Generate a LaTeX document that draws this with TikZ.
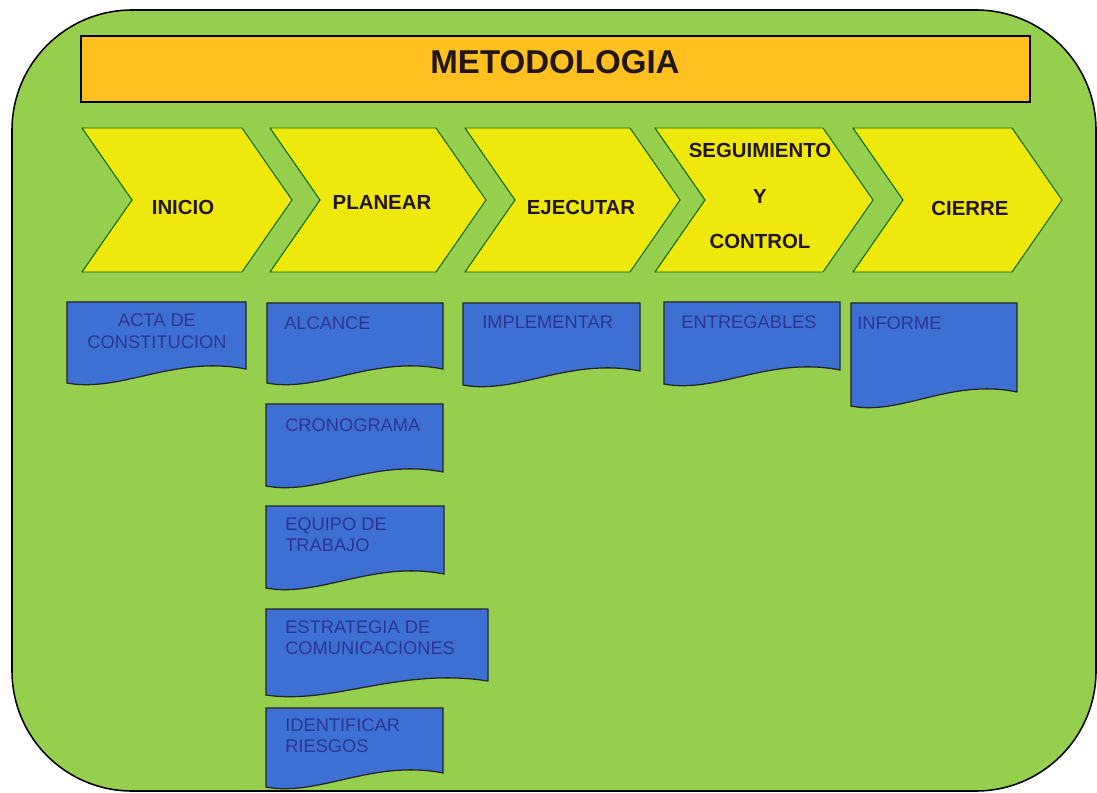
\documentclass[tikz,border=0pt]{standalone}
\usepackage{fontspec}
\setmainfont{Liberation Sans}
\definecolor{fondo}{RGB}{150,206,78}
\definecolor{naranja}{RGB}{255,192,32}
\definecolor{amarillo}{RGB}{238,232,12}
\definecolor{azul}{RGB}{62,112,212}
\definecolor{azultxt}{RGB}{42,52,150}
\definecolor{tinta}{RGB}{35,22,22}

\begin{document}
\begin{tikzpicture}[x=0.025cm,y=-0.025cm,
    fase/.style={draw=black!60!green, fill=amarillo, line width=0.7pt},
    fasetxt/.style={font=\fontsize{14.5}{17}\selectfont\bfseries, text=tinta},
    doc/.style={draw=black!85, fill=azul, line width=0.9pt},
    doctxt/.style={font=\fontsize{13}{15.6}\selectfont, text=azultxt, align=left, anchor=north west, inner sep=0pt}]
    \useasboundingbox (0,0) rectangle (1097,793);
    \draw[fill=fondo, line width=1.1pt, rounded corners=3cm] (12,10) rectangle (1096,791);

    \draw[line width=1pt, fill=naranja] (81,36) rectangle (1030,102);
    \node[font=\fontsize{23.5}{28}\selectfont\bfseries, text=tinta] (titulo) at (555,62) {METODOLOGIA};

    \foreach \x/\w in {82/160, 270/166, 465/165, 655/168, 853/159}
      \draw[fase] (\x,128) -- (\x+\w,128) -- (\x+\w+50,200) -- (\x+\w,272) -- (\x,272) -- (\x+50,200) -- cycle;

    \node[fasetxt] (inicio) at (183,207) {INICIO};
    \node[fasetxt] (planear) at (382,202) {PLANEAR};
    \node[fasetxt] (ejecutar) at (581,207) {EJECUTAR};
    \node[fasetxt, align=center, font=\fontsize{14.5}{32.5}\selectfont\bfseries] (seguimiento) at (760,196) {SEGUIMIENTO\\Y\\CONTROL};
    \node[fasetxt] (cierre) at (970,208) {CIERRE};

    \foreach \xa/\ya/\xb/\yb in {67/302/246/383, 267/303/443/383, 463/303/640/385, 664/302/840/384, 851/303/1017/406,
        266/404/443/486, 266/506/444/588, 266/609/488/695, 266/708/443/787}
      \draw[doc] (\xa,\ya) -- (\xb,\ya) -- (\xb,\yb-14)
        .. controls ({\xa+0.6*(\xb-\xa)},{\yb-28}) and ({\xa+0.3*(\xb-\xa)},{\yb+10}) .. (\xa,\yb) -- cycle;

    \node[doctxt, align=center, anchor=center] (acta) at (157,331) {ACTA DE\\CONSTITUCION};
    \node[doctxt] (alcance) at (284,316) {ALCANCE};
    \node[doctxt] (implementar) at (482,316) {IMPLEMENTAR};
    \node[doctxt, anchor=center] (entregables) at (749,322) {ENTREGABLES};
    \node[doctxt] (informe) at (857,316) {INFORME};
    \node[doctxt] (cronograma) at (285,418) {CRONOGRAMA};
    \node[doctxt] (equipo) at (285,517) {EQUIPO DE\\TRABAJO};
    \node[doctxt] (estrategia) at (285,620) {ESTRATEGIA DE\\COMUNICACIONES};
    \node[doctxt] (riesgos) at (285,718) {IDENTIFICAR\\RIESGOS};
\end{tikzpicture}
\end{document}
